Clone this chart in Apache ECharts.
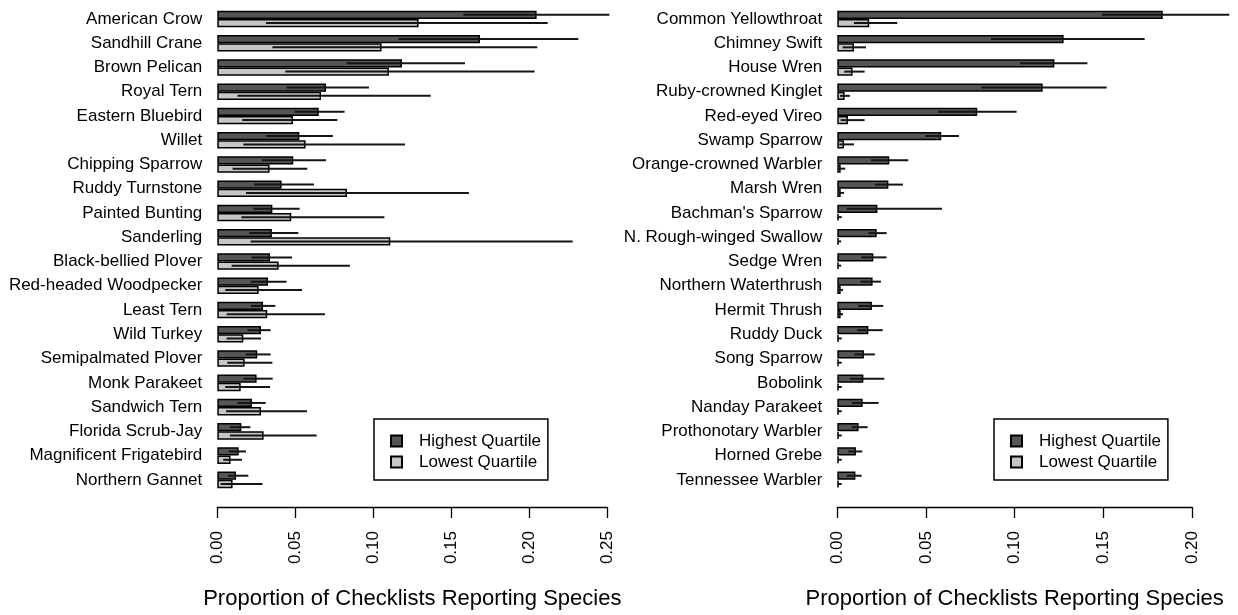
<!DOCTYPE html>
<html>
<head>
<meta charset="utf-8">
<script src="https://cdn.jsdelivr.net/npm/echarts@6/dist/echarts.min.js"></script>
<style>
  html, body { margin: 0; padding: 0; background: #ffffff; overflow: hidden; }
  #chart { width: 1238px; height: 615px; }
</style>
</head>
<body>
<div id="chart"></div>
<script>
// ---------- DATA ----------
const leftSpecies = ["American Crow","Sandhill Crane","Brown Pelican","Royal Tern","Eastern Bluebird","Willet","Chipping Sparrow","Ruddy Turnstone","Painted Bunting","Sanderling","Black-bellied Plover","Red-headed Woodpecker","Least Tern","Wild Turkey","Semipalmated Plover","Monk Parakeet","Sandwich Tern","Florida Scrub-Jay","Magnificent Frigatebird","Northern Gannet"];
const leftHigh    = [0.2047,0.1684,0.1184,0.0697,0.0650,0.0526,0.0487,0.0412,0.0353,0.0350,0.0338,0.0325,0.0293,0.0280,0.0256,0.0252,0.0222,0.0154,0.0137,0.0120];
const leftHighLo  = [0.1577,0.1162,0.0829,0.0444,0.0496,0.0312,0.0286,0.0237,0.0231,0.0205,0.0220,0.0214,0.0216,0.0194,0.0182,0.0167,0.0130,0.0081,0.0073,0.0068];
const leftHighHi  = [0.2513,0.2314,0.1588,0.0972,0.0816,0.0741,0.0697,0.0620,0.0528,0.0519,0.0479,0.0444,0.0372,0.0342,0.0342,0.0355,0.0310,0.0212,0.0184,0.0199];
const leftLow     = [0.1290,0.1053,0.1100,0.0665,0.0485,0.0566,0.0335,0.0831,0.0474,0.1109,0.0393,0.0265,0.0320,0.0167,0.0175,0.0150,0.0280,0.0297,0.0085,0.0098];
const leftLowLo   = [0.0312,0.0353,0.0436,0.0130,0.0160,0.0167,0.0098,0.0184,0.0154,0.0214,0.0092,0.0051,0.0060,0.0060,0.0064,0.0051,0.0056,0.0081,0.0038,0.0021];
const leftLowHi   = [0.2118,0.2051,0.2034,0.1368,0.0769,0.1203,0.0577,0.1613,0.1071,0.2278,0.0850,0.0543,0.0690,0.0280,0.0353,0.0338,0.0575,0.0637,0.0158,0.0290];

const rightSpecies = ["Common Yellowthroat","Chimney Swift","House Wren","Ruby-crowned Kinglet","Red-eyed Vireo","Swamp Sparrow","Orange-crowned Warbler","Marsh Wren","Bachman's Sparrow","N. Rough-winged Swallow","Sedge Wren","Northern Waterthrush","Hermit Thrush","Ruddy Duck","Song Sparrow","Bobolink","Nanday Parakeet","Prothonotary Warbler","Horned Grebe","Tennessee Warbler"];
const rightHigh    = [0.1835,0.1276,0.1224,0.1158,0.0789,0.0586,0.0293,0.0288,0.0226,0.0222,0.0203,0.0199,0.0195,0.0175,0.0150,0.0147,0.0143,0.0120,0.0105,0.0102];
const rightHighLo  = [0.1492,0.0867,0.1030,0.0812,0.0568,0.0496,0.0190,0.0212,0.0053,0.0175,0.0135,0.0132,0.0118,0.0113,0.0096,0.0071,0.0081,0.0081,0.0062,0.0053];
const rightHighHi  = [0.2210,0.1733,0.1410,0.1519,0.1011,0.0686,0.0400,0.0370,0.0590,0.0278,0.0278,0.0246,0.0259,0.0256,0.0212,0.0265,0.0233,0.0171,0.0141,0.0137];
const rightLow     = [0.0180,0.0094,0.0086,0.0041,0.0060,0.0038,0.0019,0.0019,0.0008,0.0008,0.0008,0.0019,0.0019,0.0008,0.0008,0.0008,0.0008,0.0008,0.0008,0.0008];
const rightLowLo   = [0.0094,0.0030,0.0039,0.0015,0.0019,0.0011,0.0008,0.0006,0.0002,0.0002,0.0002,0.0006,0.0006,0.0002,0.0002,0.0002,0.0002,0.0002,0.0002,0.0002];
const rightLowHi   = [0.0338,0.0162,0.0154,0.0071,0.0154,0.0094,0.0045,0.0038,0.0025,0.0022,0.0022,0.0032,0.0032,0.0025,0.0025,0.0025,0.0025,0.0025,0.0025,0.0025];

const seriesNames = ["Highest Quartile","Lowest Quartile"];
const axisTitle = "Proportion of Checklists Reporting Species";

// ---------- STYLE ----------
const FONT = "'Liberation Sans', Arial, Helvetica, sans-serif";
const DARK = "#555555";
const LIGHT = "#c6c6c6";
const BAR_W = 8.3;

function errRender(sign) {
  return function (params, api) {
    const c = api.value(0);
    const p1 = api.coord([api.value(1), c]);
    const p2 = api.coord([api.value(2), c]);
    const dy = sign * BAR_W / 2;
    return {
      type: 'line',
      shape: { x1: p1[0], y1: p1[1] + dy, x2: p2[0], y2: p2[1] + dy },
      style: { stroke: '#151515', lineWidth: 2 }
    };
  };
}
function errData(lo, hi) { return lo.map((v, i) => [i, v, hi[i]]); }

function xAxisCfg(gridIndex, max) {
  return {
    type: 'value', gridIndex: gridIndex, min: 0, max: max, interval: 0.05,
    offset: 15,
    splitLine: { show: false },
    axisLine: { show: true, lineStyle: { color: '#000', width: 1.3 } },
    axisTick: { show: true, length: 11, lineStyle: { color: '#000', width: 1.3 } },
    axisLabel: { rotate: 90, margin: 24, fontSize: 17, color: '#000', fontFamily: FONT,
                 formatter: v => v.toFixed(2), showMaxLabel: true, showMinLabel: true },
    name: axisTitle, nameLocation: 'middle', nameGap: 81,
    nameTextStyle: { fontSize: 22, color: '#000', fontFamily: FONT }
  };
}
function yAxisCfg(gridIndex, cats) {
  return {
    type: 'category', gridIndex: gridIndex, data: cats, inverse: true,
    axisLine: { show: false }, axisTick: { show: false },
    axisLabel: { margin: 15, fontSize: 17, color: '#000', fontFamily: FONT, interval: 0 }
  };
}
function legendCfg(left) {
  return {
    left: left, top: 419, orient: 'vertical',
    data: seriesNames,
    icon: 'rect', itemWidth: 11, itemHeight: 11, itemGap: 3,
    padding: [13, 7, 9, 16],
    borderColor: '#000', borderWidth: 1.5, borderRadius: 0,
    selectedMode: false,
    textStyle: { fontSize: 17, color: '#000', fontFamily: FONT, padding: [0, 0, 0, 12], lineHeight: 18 }
  };
}
function barSeries(name, xi, data, color) {
  return {
    type: 'bar', name: name, xAxisIndex: xi, yAxisIndex: xi, data: data,
    barWidth: BAR_W, barGap: '0%',
    itemStyle: { color: color, borderColor: '#000', borderWidth: 1.5 },
    animation: false
  };
}
function errSeries(xi, lo, hi, sign) {
  return {
    type: 'custom', xAxisIndex: xi, yAxisIndex: xi, z: 5,
    renderItem: errRender(sign), data: errData(lo, hi),
    encode: { x: [1, 2], y: 0 }, clip: false, animation: false, silent: true
  };
}

const chart = echarts.init(document.getElementById('chart'), null, { renderer: 'canvas' });
chart.setOption({
  backgroundColor: '#ffffff',
  animation: false,
  grid: [
    { left: 217.3, width: 390, top: 6.8, height: 490 },
    { left: 837.3, width: 354.7, top: 6.8, height: 490 }
  ],
  xAxis: [xAxisCfg(0, 0.25), xAxisCfg(1, 0.20)],
  yAxis: [yAxisCfg(0, leftSpecies), yAxisCfg(1, rightSpecies)],
  legend: [legendCfg(374), legendCfg(994)],
  series: [
    barSeries(seriesNames[0], 0, leftHigh, DARK),
    barSeries(seriesNames[1], 0, leftLow, LIGHT),
    barSeries(seriesNames[0], 1, rightHigh, DARK),
    barSeries(seriesNames[1], 1, rightLow, LIGHT),
    errSeries(0, leftHighLo, leftHighHi, -1),
    errSeries(0, leftLowLo, leftLowHi, 1),
    errSeries(1, rightHighLo, rightHighHi, -1),
    errSeries(1, rightLowLo, rightLowHi, 1)
  ]
});
</script>
</body>
</html>
